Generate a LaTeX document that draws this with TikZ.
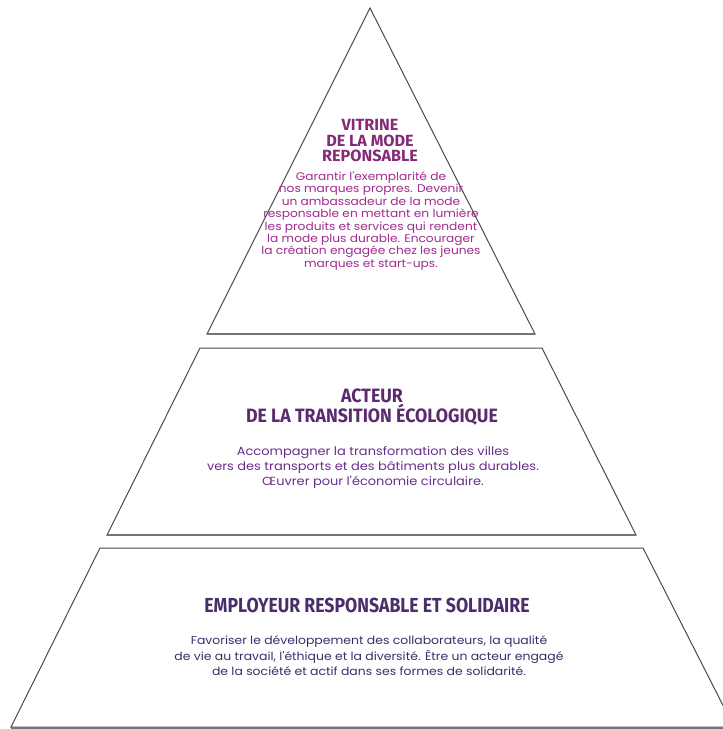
\documentclass[tikz,border=0pt]{standalone}
\usepackage{fontspec}
\setmainfont{Poppins}
\newfontfamily\headfontA{Fira Sans}[FakeStretch=1.0]
\newfontfamily\headfontB{Fira Sans}[FakeStretch=0.92]
\newfontfamily\headfontC{Fira Sans}[FakeStretch=0.87]
\newfontfamily\bodyfont{Poppins}[FakeStretch=1.1]
\definecolor{edge}{HTML}{4A4A4E}
\definecolor{baseedge}{HTML}{75727C}
\definecolor{hOne}{HTML}{862A78}
\definecolor{bOne}{HTML}{A02A8E}
\definecolor{hTwo}{HTML}{5C2A6E}
\definecolor{bTwo}{HTML}{6A2D8C}
\definecolor{hThree}{HTML}{4A2E6A}
\definecolor{bThree}{HTML}{3E2A6A}
\tikzset{
  tier/.style={draw=edge, line width=1pt, line join=miter},
  tierbase/.style={draw=baseedge, line width=2pt},
  headtxt/.style={align=center, inner sep=0pt},
  bodytxt/.style={align=center, inner sep=0pt},
}
\begin{document}
\begin{tikzpicture}[x=1pt,y=-1pt]
\useasboundingbox (0,0) rectangle (723,729);
\clip (0,0) rectangle (723,729);
% tier 1 (triangle)
\draw[tier] (370,8) -- (535,334) -- (207,334) -- cycle;
\draw[tierbase] (207,334) -- (535,334);
% tier 2
\draw[tier] (200,348) -- (542,348) -- (636,535) -- (107,535) -- cycle;
\draw[tierbase] (107,535) -- (636,535);
% tier 3
\draw[tier] (100,548) -- (643,548) -- (734,727) -- (11,727) -- cycle;
\draw[tierbase] (11,727.5) -- (734,727.5);
% texts
\node[headtxt, text=hOne, font=\headfontA\bfseries\fontsize{16.2}{15.5}\selectfont] (h1) at (370,141) {VITRINE\\DE LA MODE\\REPONSABLE};
\node[bodytxt, text=bOne, font=\bodyfont\fontsize{11.1}{12.4}\selectfont] (b1) at (371,221) {Garantir l'exemplarité de\\nos marques propres. Devenir\\un ambassadeur de la mode\\responsable en mettant en lumière\\les produits et services qui rendent\\la mode plus durable. Encourager\\la création engagée chez les jeunes\\marques et start-ups.};
\node[headtxt, text=hTwo, font=\headfontB\bfseries\fontsize{19.3}{18}\selectfont] (h2) at (372,407) {ACTEUR\\DE LA TRANSITION ÉCOLOGIQUE};
\node[bodytxt, text=bTwo, font=\bodyfont\fontsize{11.8}{15}\selectfont] (b2) at (373,468) {Accompagner la transformation des villes\\vers des transports et des bâtiments plus durables.\\Œuvrer pour l'économie circulaire.};
\node[headtxt, text=hThree, font=\headfontC\bfseries\fontsize{20.3}{20}\selectfont] (h3) at (367,605) {EMPLOYEUR RESPONSABLE ET SOLIDAIRE};
\node[bodytxt, text=bThree, font=\bodyfont\fontsize{11.3}{15.5}\selectfont] (b3) at (369,656) {Favoriser le développement des collaborateurs, la qualité\\de vie au travail, l'éthique et la diversité. Être un acteur engagé\\de la société et actif dans ses formes de solidarité.};
\end{tikzpicture}
\end{document}
